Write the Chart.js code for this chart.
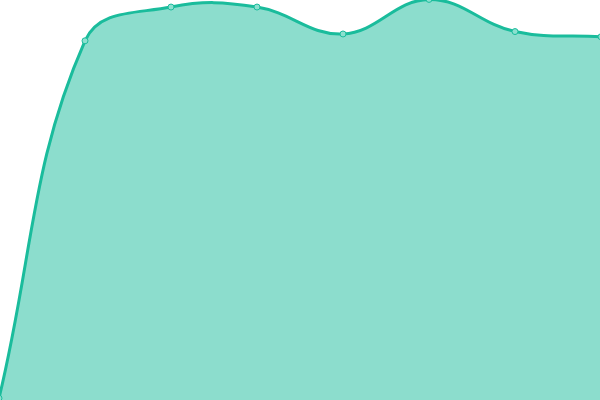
<!DOCTYPE html>
<html><head><meta charset="utf-8">
<script src="https://cdn.jsdelivr.net/npm/chart.js@4/dist/chart.umd.min.js"></script>
<style>
html,body{margin:0;padding:0;background:#fff;overflow:hidden}
#outer{position:relative;width:600px;height:400px;overflow:hidden}
#wrap{position:absolute;left:-6px;top:-6px;width:612px;height:412px}
</style>
</head><body><div id="outer"><div id="wrap"><canvas id="c"></canvas></div></div>
<script>
const labels = ["1","2","3","4","5","6","7","8"];
const values = [0.7, 89.6, 98, 98, 91.3, 99.9, 91.9, 90.6];
const yMin = 0;
const yMax = 100;

new Chart(document.getElementById('c'), {
  type: 'line',
  data: {
    labels: labels,
    datasets: [{
      data: values,
      fill: 'origin',
      backgroundColor: 'rgba(26,188,156,0.5)',
      borderColor: '#1abc9c',
      borderWidth: 3,
      tension: 0.4,
      pointRadius: 3,
      pointBackgroundColor: '#8ce0cf',
      pointBorderColor: '#1abc9c',
      pointBorderWidth: 1
    }]
  },
  options: {
    responsive: true,
    maintainAspectRatio: false,
    animation: false,
    layout: { padding: 0 },
    plugins: { legend: { display: false }, tooltip: { enabled: false } },
    scales: {
      x: { display: false },
      y: { display: false, min: yMin, max: yMax }
    }
  }
});
</script></body></html>
